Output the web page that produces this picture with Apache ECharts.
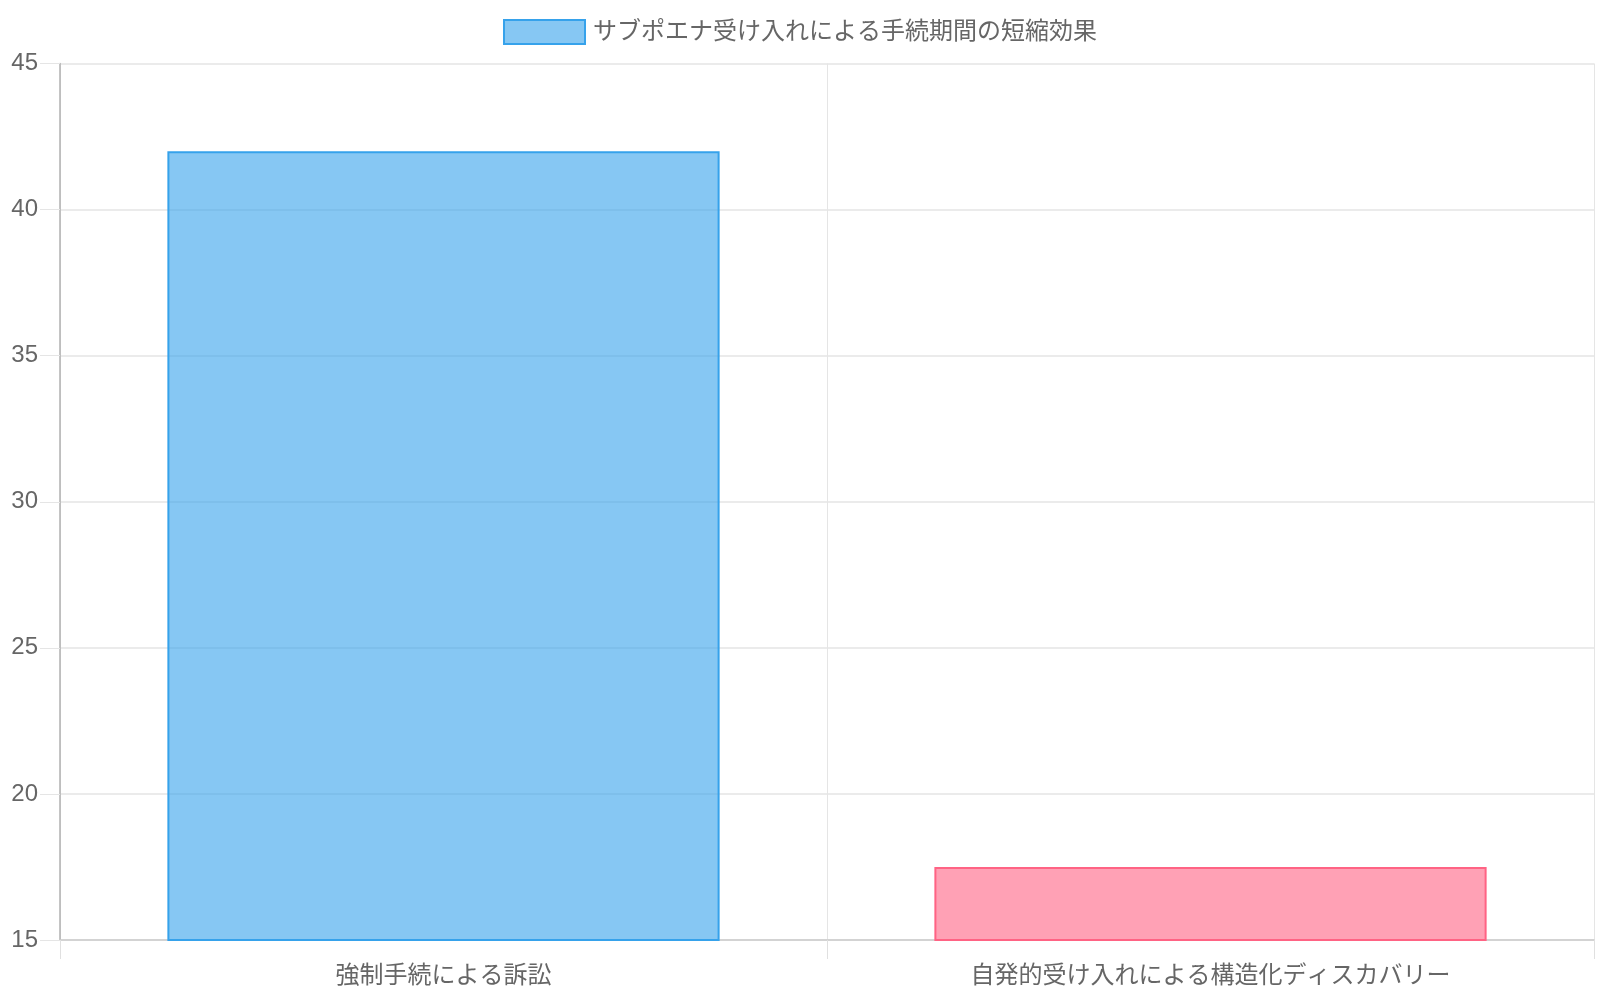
<!DOCTYPE html>
<html><head><meta charset="utf-8">
<script src="https://cdn.jsdelivr.net/npm/echarts@6/dist/echarts.min.js"></script>
<style>html,body{margin:0;padding:0;background:#fff}#c{width:1600px;height:1000px}</style>
</head><body><div id="c"></div>
<script>
const categories = ['強制手続による訴訟', '自発的受け入れによる構造化ディスカバリー'];
const values = [42, 17.5];
const seriesName = 'サブポエナ受け入れによる手続期間の短縮効果';
const yMin = 15, yMax = 45, yInterval = 5;

const fills = ['rgba(54,162,235,0.6)', 'rgba(255,99,132,0.6)'];
const borders = ['#36A2EB', '#FF6384'];
const FONT = '"Liberation Sans", "Noto Sans CJK JP", sans-serif';

const chart = echarts.init(document.getElementById('c'));
chart.setOption({
  animation: false,
  textStyle: { fontFamily: FONT },
  legend: {
    top: 14, left: 'center', icon: 'rect',
    itemWidth: 81, itemHeight: 24, itemGap: 10,
    textStyle: { fontSize: 24, color: '#666', fontFamily: FONT, padding: [0,0,0,3] },
    data: [seriesName]
  },
  grid: { left: 60, right: 6, top: 63.5, bottom: 60, containLabel: false },
  xAxis: {
    type: 'category', data: categories,
    boundaryGap: true,
    axisLine: { show: true, lineStyle: { color: '#cccccc', width: 1.5 } },
    axisTick: { show: true, length: 19, alignWithLabel: false, lineStyle: { color: '#e0e0e0' } },
    splitLine: { show: true, lineStyle: { color: '#e5e5e5' } },
    axisLabel: { fontSize: 24, color: '#666', margin: 24, fontFamily: FONT }
  },
  yAxis: {
    type: 'value', min: yMin, max: yMax, interval: yInterval,
    axisLine: { show: true, lineStyle: { color: '#b0b0b0', width: 1.5 } },
    axisTick: { show: true, length: 20, lineStyle: { color: '#e5e5e5' } },
    splitLine: { show: true, lineStyle: { color: '#e5e5e5', width: 1.5 } },
    axisLabel: { fontSize: 24, color: '#666', margin: 22, fontFamily: FONT }
  },
  series: [{
    name: seriesName, type: 'bar', barWidth: '72%',
    itemStyle: { color: fills[0], borderColor: borders[0], borderWidth: 2 },
    data: values.map((v, i) => ({ value: v, itemStyle: { color: fills[i], borderColor: borders[i], borderWidth: 2 } }))
  }]
});
</script></body></html>
